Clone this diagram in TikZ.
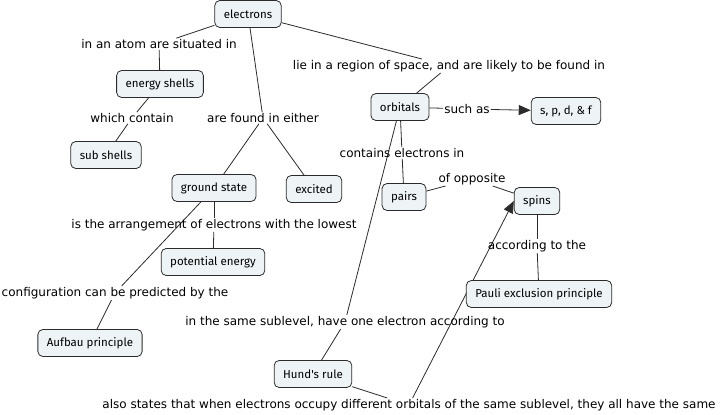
\documentclass[tikz,border=0pt]{standalone}
\usepackage{fontspec}
\usetikzlibrary{arrows.meta,backgrounds}
\newfontfamily\linkfont{DejaVu Sans}
\newfontfamily\conceptfont{Fira Sans}
\definecolor{boxfill}{HTML}{EEF3F6}
\definecolor{drawdark}{HTML}{2B2B2B}

\begin{document}
\begin{tikzpicture}[
		x=1pt, y=-1pt,
		concept/.style={
			draw=drawdark,
			line width=0.8pt,
			rounded corners=5pt,
			fill=boxfill,
			font={\conceptfont\fontsize{11.5pt}{13pt}\selectfont},
			inner xsep=9pt,
			minimum height=27pt
		},
		link/.style={
			font={\linkfont\fontsize{12pt}{14pt}\selectfont},
			inner sep=1pt
		},
		conn/.style={draw=drawdark, line width=0.8pt},
		arrowconn/.style={conn, -{Triangle[length=12pt, width=10pt]}}
	]
		\useasboundingbox (0,0) rectangle (724,415);

		\node[concept] (electrons) at (248,14) {electrons};
		\node[concept] (energy-shells) at (160,84) {energy shells};
		\node[concept] (sub-shells) at (106,155) {sub shells};
		\node[concept] (ground-state) at (214,188) {ground state};
		\node[concept] (excited) at (314,189) {excited};
		\node[concept] (potential-energy) at (213,262) {potential energy};
		\node[concept] (aufbau) at (90,343) {Aufbau principle};
		\node[concept] (hund) at (313,374) {Hund's rule};
		\node[concept] (orbitals) at (400,107) {orbitals};
		\node[concept] (spdf) at (566,111) {s, p, d, \& f};
		\node[concept] (pairs) at (404,197) {pairs};
		\node[concept] (spins) at (537,201) {spins};
		\node[concept] (pauli) at (539,294) {Pauli exclusion principle};

		\node[link] (situated) at (159,44) {in an atom are situated in};
		\node[link] (contain) at (132,118) {which contain};
		\node[link] (either) at (263,118) {are found in either};
		\node[link] (region) at (449,66)
			{lie in a region of space, and are likely to be found in};
		\node[link] (such-as) at (467,109) {such as};
		\node[link] (contains) at (402,153) {contains electrons in};
		\node[link] (opposite) at (472,179) {of opposite};
		\node[link] (lowest) at (214,225)
			{is the arrangement of electrons with the lowest};
		\node[link] (predicted) at (115,293) {configuration can be predicted by the};
		\node[link] (sublevel) at (345,322)
			{in the same sublevel, have one electron according to};
		\node[link] (according) at (537,246) {according to the};
		\node[link] (same) at (409,405)
			{also states that when electrons occupy different orbitals of the same sublevel, they all have the same};

		\begin{scope}[on background layer]
			\draw[conn] (electrons) -- (situated);
			\draw[conn] (situated) -- (energy-shells);
			\draw[conn] (energy-shells) -- (contain);
			\draw[conn] (contain) -- (sub-shells);
			\draw[conn] (electrons) -- (either);
			\draw[conn] (either) -- (ground-state);
			\draw[conn] (either) -- (excited);
			\draw[conn] (electrons) -- (region);
			\draw[conn] (region) -- (orbitals);
			\draw[conn] (orbitals) -- (such-as);
			\draw[arrowconn] (such-as) -- (spdf);
			\draw[conn] (orbitals) -- (contains);
			\draw[conn] (contains) -- (pairs);
			\draw[conn] (pairs) -- (opposite);
			\draw[conn] (opposite) -- (spins);
			\draw[conn] (ground-state) -- (lowest);
			\draw[conn] (lowest) -- (potential-energy);
			\draw[conn] (ground-state) -- (predicted);
			\draw[conn] (predicted) -- (aufbau);
			\draw[conn] (orbitals) -- (sublevel);
			\draw[conn] (sublevel) -- (hund);
			\draw[conn] (spins) -- (according);
			\draw[conn] (according) -- (pauli);
			\draw[conn] (hund) -- (same);
			\draw[arrowconn] (same) -- (spins.west);
		\end{scope}
	\end{tikzpicture}
\end{document}
